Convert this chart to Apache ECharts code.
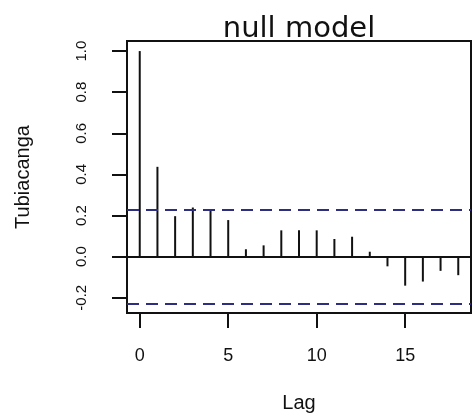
<!DOCTYPE html>
<html>
<head>
<meta charset="utf-8">
<script src="https://cdn.jsdelivr.net/npm/echarts@6/dist/echarts.min.js"></script>
<style>html,body{margin:0;padding:0;background:#fff}#c{width:474px;height:419px}</style>
</head>
<body>
<div id="c"></div>
<script>
const lags = [0,1,2,3,4,5,6,7,8,9,10,11,12,13,14,15,16,17,18];
const acfValues = [1.0,0.437,0.197,0.239,0.227,0.178,0.036,0.055,0.128,0.128,0.128,0.086,0.097,0.024,-0.047,-0.141,-0.121,-0.069,-0.090];
const ciBound = 0.226;
const xTicks = [0,5,10,15];
const yTicks = [-0.2,0.0,0.2,0.4,0.6,0.8,1.0];

const chart = echarts.init(document.getElementById('c'));
const font = 'Liberation Sans, Arial, sans-serif';
chart.setOption({
  animation: false,
  backgroundColor: '#fff',
  title: {
    text: 'null model',
    left: 294, top: 10, textAlign: 'center',
    textStyle: {fontFamily: 'DejaVu Sans, sans-serif', fontSize: 29, fontWeight: 'normal', color: '#111'}
  },
  grid: {left: 127, right: 3, top: 41, bottom: 106, show: true, borderColor: '#111', borderWidth: 2, backgroundColor: 'transparent'},
  xAxis: {
    type: 'value', min: -0.72, max: 18.72,
    name: 'Lag', nameLocation: 'middle', nameGap: 80,
    nameTextStyle: {fontFamily: font, fontSize: 20, color: '#111'},
    axisLine: {show: false, onZero: false},
    splitLine: {show: false},
    axisTick: {show: true, length: 15, customValues: xTicks, lineStyle: {color: '#111', width: 2}},
    axisLabel: {customValues: xTicks, margin: 34, fontFamily: font, fontSize: 18, color: '#111'}
  },
  yAxis: {
    type: 'value', min: -0.274, max: 1.049,
    name: 'Tubiacanga', nameLocation: 'middle', nameGap: 94, nameRotate: 90,
    nameTextStyle: {fontFamily: font, fontSize: 20, color: '#111'},
    axisLine: {show: false, onZero: false},
    splitLine: {show: false},
    axisTick: {show: true, length: 15, customValues: yTicks, lineStyle: {color: '#111', width: 2}},
    axisLabel: {customValues: yTicks, rotate: 90, margin: 38, fontFamily: font, fontSize: 15, color: '#111',
      formatter: v => v.toFixed(1)}
  },
  series: [{
    type: 'bar',
    barWidth: 2,
    itemStyle: {color: '#111'},
    data: lags.map((l, i) => [l, acfValues[i]]),
    markLine: {
      silent: true, symbol: 'none', label: {show: false},
      data: [
        {yAxis: 0, lineStyle: {color: '#111', width: 2, type: 'solid'}},
        {yAxis: ciBound, lineStyle: {color: '#2e2e80', width: 2, type: [12, 7]}},
        {yAxis: -ciBound, lineStyle: {color: '#2e2e80', width: 2, type: [12, 7]}}
      ]
    }
  }]
});
</script>
</body>
</html>
